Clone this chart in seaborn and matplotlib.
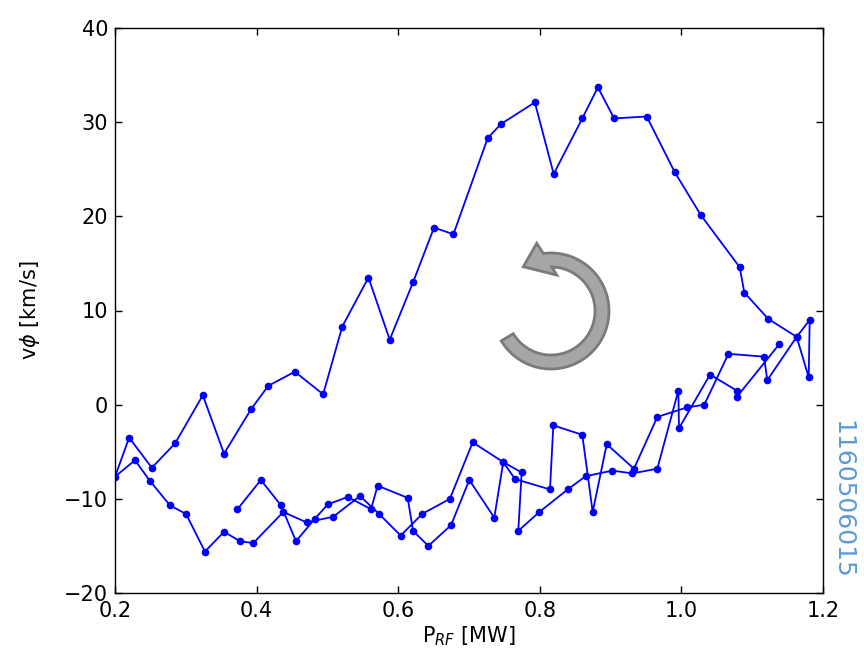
import numpy as np
import pandas as pd
import matplotlib

matplotlib.use("Agg")
import matplotlib.pyplot as plt
import seaborn as sns
from matplotlib.patches import Polygon

# first ramp-up (lower branch, first pass)
p_rf_up1 = [0.373, 0.406, 0.4345, 0.4556, 0.4825, 0.5004, 0.5287, 0.5616, 0.571,
            0.6134, 0.621, 0.6425, 0.6746, 0.7004, 0.7357, 0.7484, 0.765, 0.8144,
            0.8191, 0.86, 0.8747, 0.8945, 0.933, 0.966, 1.0076, 1.0324, 1.0664,
            1.1167, 1.1213, 1.1628, 1.1798, 1.1812, 1.1628]
v_phi_up1 = [-11.1, -8.0, -10.7, -14.5, -12.1, -10.6, -9.8, -11.1, -8.6,
             -9.9, -13.4, -15.0, -12.8, -8.0, -12.0, -6.1, -7.9, -9.0,
             -2.2, -3.2, -11.4, -4.2, -6.8, -1.3, -0.3, 0.0, 5.4,
             5.1, 2.6, 7.2, 2.9, 9.0, 7.2]

# ramp-down (upper branch)
p_rf_down = [1.1228, 1.0889, 1.0823, 1.0277, 0.9905, 0.951, 0.905, 0.882, 0.86,
             0.8196, 0.793, 0.745, 0.7264, 0.678, 0.6506, 0.621, 0.588, 0.558,
             0.521, 0.494, 0.454, 0.4165, 0.392, 0.354, 0.324, 0.285, 0.252,
             0.220, 0.200]
v_phi_down = [9.1, 11.9, 14.6, 20.1, 24.7, 30.6, 30.4, 33.7, 30.4,
              24.5, 32.1, 29.8, 28.3, 18.1, 18.8, 13.0, 6.9, 13.5,
              8.3, 1.1, 3.5, 2.0, -0.5, -5.2, 1.0, -4.1, -6.7,
              -3.5, -7.65]

# second ramp-up
p_rf_up2 = [0.2282, 0.2494, 0.2777, 0.3003, 0.327, 0.354, 0.3766, 0.3953, 0.4377,
            0.4707, 0.5083, 0.546, 0.5729, 0.6035, 0.634, 0.673, 0.7052, 0.7484,
            0.7744, 0.7696, 0.7993, 0.8394, 0.8647, 0.9024, 0.9307, 0.966, 0.9957,
            0.9966, 1.0405, 1.078, 1.078, 1.138]
v_phi_up2 = [-5.9, -8.1, -10.7, -11.6, -15.6, -13.5, -14.5, -14.7, -11.4,
             -12.5, -11.9, -9.7, -11.6, -13.9, -11.6, -10.0, -4.0, -6.1,
             -7.2, -13.4, -11.4, -9.0, -7.6, -7.0, -7.3, -6.8, 1.5,
             -2.5, 3.2, 1.5, 0.8, 6.4]

x_ticks = [0.2, 0.4, 0.6, 0.8, 1.0, 1.2]
y_ticks = [-20, -10, 0, 10, 20, 30, 40]
shot_label = "1160506015"

W, H = 864, 656


def arrow_polygon(cx, cy, r_out, r_in):
    # curved counter-clockwise arrow, built in pixel space (y up)
    def pt(r, deg):
        a = np.deg2rad(deg)
        return (cx + r * np.cos(a), cy + r * np.sin(a))

    verts = [pt(r_out, a) for a in np.linspace(-149, 97.6, 90)]
    verts += [pt(69.2, 101.9), pt(52.2, 122.0), pt(36.4, 81.0)]
    verts += [pt(r_in, a) for a in np.linspace(88.8, -149, 90)]
    return [(x / W, y / H) for x, y in verts]


def main():
    sns.set_style("white")
    plt.rcParams.update({
        "font.family": ["DejaVu Sans"],
        "xtick.direction": "in",
        "ytick.direction": "in",
        "xtick.top": True,
        "ytick.right": True,
        "xtick.bottom": True,
        "ytick.left": True,
        "xtick.major.size": 5,
        "ytick.major.size": 5,
        "axes.edgecolor": "black",
        "axes.labelcolor": "black",
        "text.color": "black",
        "axes.linewidth": 1.0,
        "xtick.color": "black",
        "ytick.color": "black",
    })

    df = pd.DataFrame({
        "p_rf": p_rf_up1 + p_rf_down + p_rf_up2,
        "v_phi": v_phi_up1 + v_phi_down + v_phi_up2,
    })

    fig = plt.figure(figsize=(W / 100, H / 100), dpi=100)
    ax = fig.add_axes([115 / W, 1 - 593 / H, (823 - 115) / W, (593 - 28) / H])

    sns.lineplot(
        data=df, x="p_rf", y="v_phi", sort=False, estimator=None,
        color="#0000ff", linewidth=1.3, marker="o", markersize=5.5,
        markeredgewidth=0, ax=ax,
    )

    ax.set_xlim(0.2, 1.2)
    ax.set_ylim(-20, 40)
    ax.set_xticks(x_ticks)
    ax.set_yticks(y_ticks)
    ax.tick_params(labelsize=15, width=1)
    ax.tick_params(axis="x", pad=6)
    ax.tick_params(axis="y", pad=5)
    ax.set_xlabel(r"P$_{RF}$ [MW]", fontsize=15, labelpad=2)
    ax.set_ylabel(r"v$\phi$ [km/s]", fontsize=15, labelpad=16)

    arrow = Polygon(arrow_polygon(551, H - 311, 58, 44), closed=True,
                    transform=fig.transFigure, facecolor="#a6a6a6",
                    edgecolor="#7a7a7a", linewidth=2)
    fig.patches.append(arrow)

    fig.text(842 / W, 1 - 499 / H, shot_label, rotation=-90, color="#5b9bd5",
             fontsize=18, ha="center", va="center")

    fig.savefig("out.png", dpi=100)


if __name__ == "__main__":
    main()
